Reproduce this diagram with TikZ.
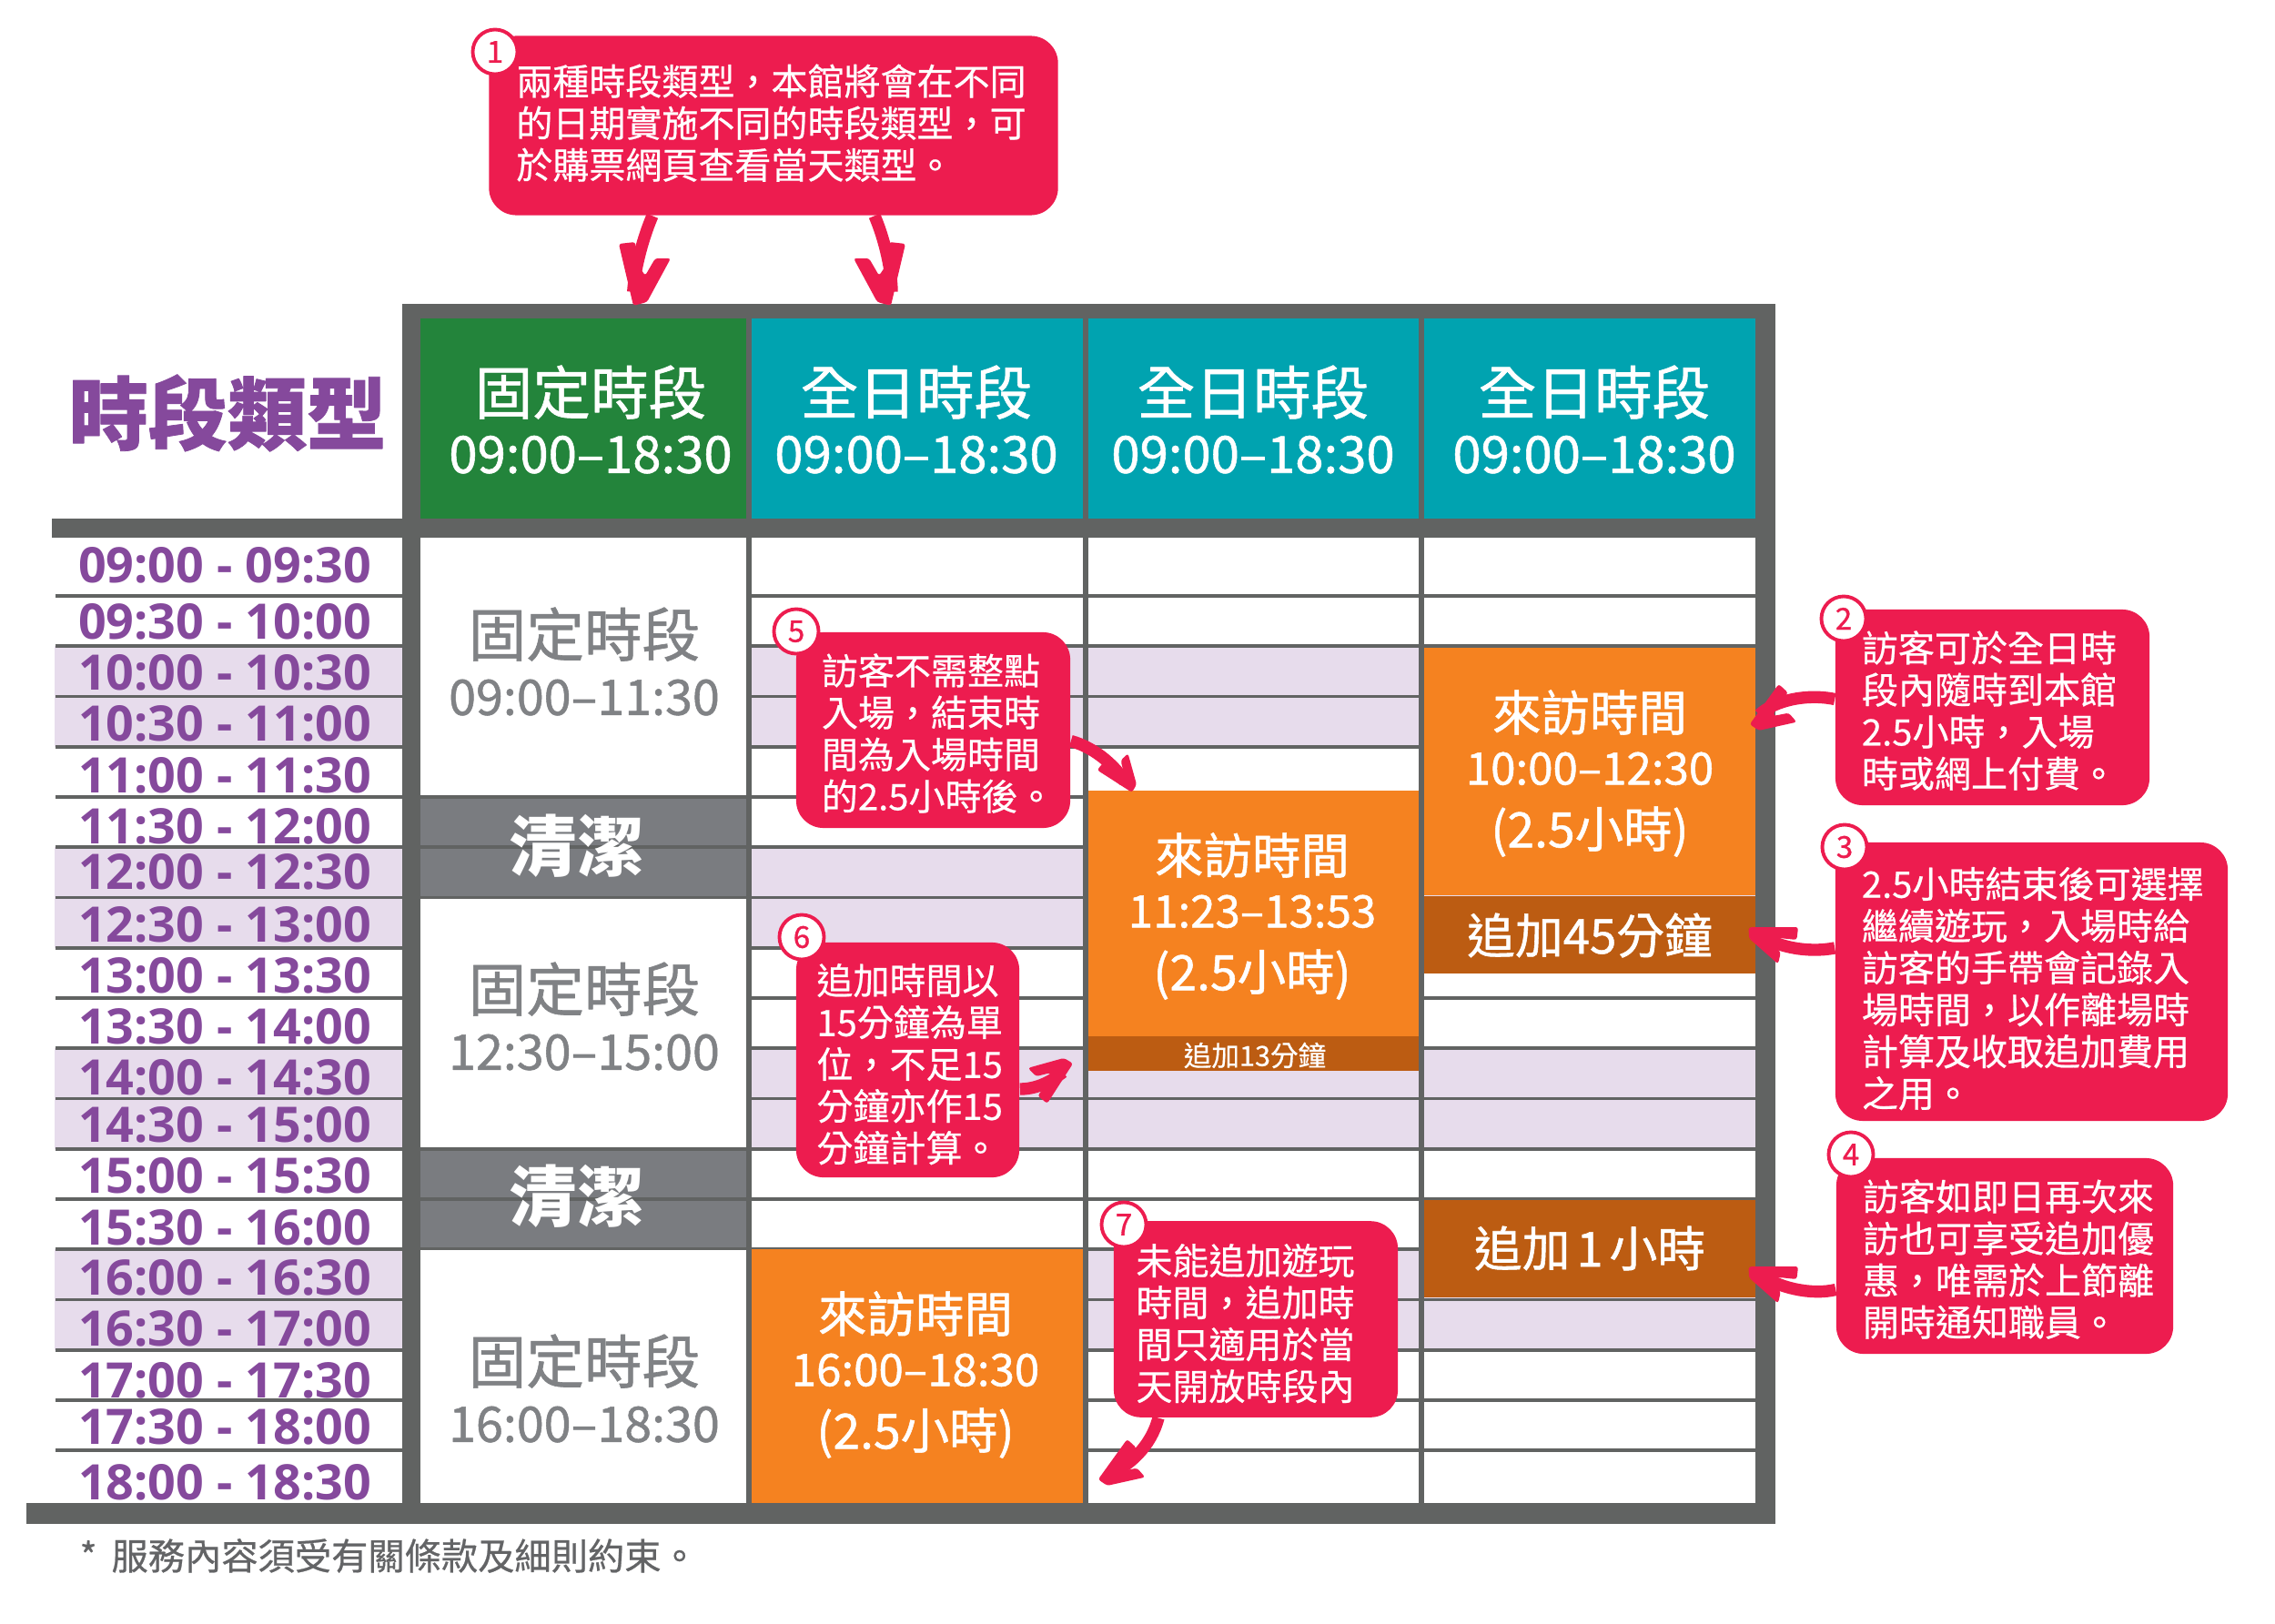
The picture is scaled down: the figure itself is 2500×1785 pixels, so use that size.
\documentclass[tikz,border=0pt]{standalone}
\usepackage{fontspec}
\setmainfont{Noto Sans CJK TC}
\newfontfamily\cjkmed[FakeBold=0.55]{Noto Sans CJK TC}
\newfontfamily\cjkhead[FakeBold=1]{Noto Sans CJK TC}
\newfontfamily\cjkheavy[BoldFeatures={FakeBold=0.9}]{Noto Sans CJK TC}
\newfontfamily\slotfont{Open Sans}
\usetikzlibrary{positioning}
\definecolor{framegray}{HTML}{616362}
\definecolor{cleangray}{HTML}{7A7C80}
\definecolor{labelgray}{HTML}{808285}
\definecolor{notegray}{HTML}{636466}
\definecolor{fixedgreen}{HTML}{23843B}
\definecolor{dayteal}{HTML}{00A3B0}
\definecolor{visitorange}{HTML}{F58220}
\definecolor{extrabrown}{HTML}{BC5C12}
\definecolor{callred}{HTML}{ED1C4F}
\definecolor{rowlilac}{HTML}{E7DCEC}
\definecolor{slotpurple}{HTML}{85499C}
\newcommand{\titlefont}{\fontsize{18.1pt}{19.6pt}\selectfont}
\newcommand{\timefont}{\fontsize{16pt}{19.6pt}\selectfont}
\newcommand{\periodtime}{\fontsize{15.3pt}{19.6pt}\selectfont}
\newcommand{\visittitle}{\fontsize{15.2pt}{18.2pt}\selectfont}
\newcommand{\visittime}{\fontsize{14pt}{18.2pt}\selectfont}
\tikzset{
    headtext/.style = {text = white, align = center, font = \cjkhead\fontsize{16pt}{18.3pt}\selectfont},
    periodtext/.style = {text = labelgray, align = center, font = \cjkhead\fontsize{16pt}{18.3pt}\selectfont},
    visittext/.style = {text = white, align = center, font = \cjkhead\fontsize{14pt}{18.2pt}\selectfont},
    extratext/.style = {text = white, font = \cjkhead\fontsize{15pt}{18pt}\selectfont},
    slotlabel/.style = {text = slotpurple, font = \slotfont\bfseries\fontsize{15.3pt}{18pt}\selectfont},
    cleantext/.style = {text = white, font = \bfseries\fontsize{20.8pt}{24pt}\selectfont},
    callbox/.style = {fill = callred, rounded corners = 0.3cm, text = white, align = left,
        font = \cjkmed\fontsize{11.38pt}{13.09pt}\selectfont,
        execute at begin node = {\rule{0pt}{#1}}},
    callbox/.default = 0pt,
    callnum/.style = {circle, draw = callred, fill = white, line width = 1.1pt, text = callred,
        minimum size = 0.49cm, inner sep = 0pt, font = \cjkhead\fontsize{9.4pt}{10pt}\selectfont},
    callarrow/.style = {draw = callred, line width = 3.8pt, shorten > = 3.5pt},
    handhead/.pic = {
        \fill[callred, rounded corners = 0.8pt] (1,3) -- (-15,-65) -- (3,-67) -- (6,-42)
            -- (14,-30) -- (25,-49) -- (42,-49) -- (16,-1) -- cycle;
    }
}

\begin{document}
\begin{tikzpicture}[x = 0.01cm, y = -0.01cm, line join = round]
    \useasboundingbox (0,0) rectangle (2500,1785);
    \fill[white] (0,0) rectangle (2500,1785);

    % clean blocks and lilac rows go under the grid lines
    \fill[cleangray] (462,875) rectangle (820,986);
    \fill[cleangray] (462,1261) rectangle (820,1372);
    \foreach \r in {2,3,6,7,10,11,14,15} {
        \fill[rowlilac] (60,{655+55.25*(\r-1)}) rectangle (442,{655+55.25*\r});
        \fill[rowlilac] (826,{655+55.25*(\r-1)}) rectangle (1929,{655+55.25*\r});
    }
    \foreach \k in {0,...,17} {
        \draw[framegray, line width = 1.1pt] (61,{655+55.25*\k}) -- (1929,{655+55.25*\k});
    }
    \fill[white] (462,591) rectangle (820,873);
    \fill[white] (462,988) rectangle (820,1259);
    \fill[white] (462,1374) rectangle (820,1652);

    % frame
    \fill[framegray] (442,334) rectangle (1951,350);
    \fill[framegray] (57,570) rectangle (1951,591);
    \fill[framegray] (442,334) rectangle (462,1675);
    \fill[framegray] (1929,334) rectangle (1951,1675);
    \fill[framegray] (29,1652) rectangle (1951,1675);
    \foreach \x in {823,1193,1562} {
        \draw[framegray, line width = 1.7pt] (\x,350) -- (\x,1652);
    }

    % header
    \fill[fixedgreen] (462,350) rectangle (820,570);
    \fill[dayteal] (826,350) rectangle (1190,570);
    \fill[dayteal] (1196,350) rectangle (1559,570);
    \fill[dayteal] (1565,350) rectangle (1929,570);
    \node[headtext] (headfixed) at (649,461) {{\titlefont 固定時段}\\{\timefont 09:00–18:30}};
    \node[headtext] (headday) at (1007,461) {{\titlefont 全日時段}\\{\timefont 09:00–18:30}};
    \node[headtext] (headdayb) at (1377,461) {{\titlefont 全日時段}\\{\timefont 09:00–18:30}};
    \node[headtext] (headdayc) at (1752,461) {{\titlefont 全日時段}\\{\timefont 09:00–18:30}};
    \node[text = slotpurple, font = \cjkheavy\bfseries\fontsize{24.8pt}{28pt}\selectfont] (title) at (250,454) {時段類型};

    % time slots
    \foreach \t/\y [count = \i] in {09:00 - 09:30/621, 09:30 - 10:00/683, 10:00 - 10:30/739,
        10:30 - 11:00/795, 11:00 - 11:30/852, 11:30 - 12:00/908, 12:00 - 12:30/958,
        12:30 - 13:00/1016, 13:00 - 13:30/1072, 13:30 - 14:00/1128, 14:00 - 14:30/1184,
        14:30 - 15:00/1236, 15:00 - 15:30/1292, 15:30 - 16:00/1349, 16:00 - 16:30/1404,
        16:30 - 17:00/1460, 17:00 - 17:30/1517, 17:30 - 18:00/1568, 18:00 - 18:30/1629} {
        \node[slotlabel] (slot\i) at (247,\y) {\t};
    }

    % fixed periods
    \node[periodtext] (periodam) at (642,727) {{\titlefont 固定時段}\\{\periodtime 09:00–11:30}};
    \node[periodtext] (periodnoon) at (642,1117) {{\titlefont 固定時段}\\{\periodtime 12:30–15:00}};
    \node[periodtext] (periodpm) at (642,1526) {{\titlefont 固定時段}\\{\periodtime 16:00–18:30}};
    \node[cleantext] (cleana) at (634,930) {清潔};
    \node[cleantext] (cleanb) at (634,1315) {清潔};

    % visits
    \fill[visitorange] (826,1373) rectangle (1190,1652);
    \fill[visitorange] (1196,869) rectangle (1559,1139);
    \fill[extrabrown] (1196,1139) rectangle (1559,1177);
    \fill[visitorange] (1565,712) rectangle (1929,984);
    \fill[extrabrown] (1565,985) rectangle (1929,1070);
    \fill[extrabrown] (1565,1319) rectangle (1929,1426);
    \node[visittext] (visita) at (1006,1511) {{\visittitle 來訪時間}\\[-1.4pt]{\visittime 16:00–18:30}\\[1.4pt]{\visittitle (2.5小時)}};
    \node[visittext] (visitb) at (1376,1007) {{\visittitle 來訪時間}\\[-1.4pt]{\visittime 11:23–13:53}\\[1.4pt]{\visittitle (2.5小時)}};
    \node[visittext] (visitc) at (1747,850) {{\visittitle 來訪時間}\\[-1.4pt]{\visittime 10:00–12:30}\\[1.4pt]{\visittitle (2.5小時)}};
    \node[text = white, font = \cjkmed\fontsize{8.7pt}{11pt}\selectfont] (extrab) at (1379,1160) {追加13分鐘};
    \node[extratext] (extrac) at (1747,1028) {追加45分鐘};
    \node[extratext] (extrad) at (1747,1372) {追加\hspace{0.13em}1\hspace{0.13em}小時};

    % callouts
    \node[callbox, text width = 5.65cm, inner xsep = 0.3cm, minimum height = 1.97cm] (callone) at (850,138)
        {兩種時段類型，本館將會在不同\\的日期實施不同的時段類型，可\\於購票網頁查看當天類型。\rule[-0.09cm]{0pt}{0pt}};
    \node[callbox = 0.41cm, text width = 2.87cm, inner xsep = 0.29cm, minimum height = 2.15cm] (calltwo) at (2189.5,777.5)
        {訪客可於全日時\\段內隨時到本館\\2.5小時，入場\\時或網上付費。};
    \node[callbox = 0.49cm, text width = 3.73cm, inner xsep = 0.29cm, minimum height = 3.00cm] (callthree) at (2232.5,1079)
        {2.5小時結束後可選擇\\繼續遊玩，入場時給\\訪客的手帶會記錄入\\場時間，以作離場時\\計算及收取追加費用\\之用。};
    \node[callbox = 0.41cm, text width = 3.12cm, inner xsep = 0.29cm, minimum height = 2.15cm] (callfour) at (2203,1380.5)
        {訪客如即日再次來\\訪也可享受追加優\\惠，唯需於上節離\\開時通知職員。};
    \node[callbox = 0.41cm, text width = 2.45cm, inner xsep = 0.28cm, minimum height = 2.15cm] (callfive) at (1025.5,802.5)
        {訪客不需整點\\入場，結束時\\間為入場時間\\的2.5小時後。};
    \node[callbox = 0.43cm, text width = 2.0cm, inner xsep = 0.225cm, minimum height = 2.58cm] (callsix) at (997.5,1165)
        {追加時間以\\15分鐘為單\\位，不足15\\分鐘亦作15\\分鐘計算。};
    \node[callbox = 0.43cm, text width = 2.63cm, inner xsep = 0.245cm, minimum height = 2.155cm] (callseven) at (1380,1450)
        {未能追加遊玩\\時間，追加時\\間只適用於當\\天開放時段內};
    \node[callnum] (numone) at (544,57) {1};
    \node[callnum] (numtwo) at (2026,680) {2};
    \node[callnum] (numthree) at (2027,931) {3};
    \node[callnum] (numfour) at (2034,1269) {4};
    \node[callnum] (numfive) at (875,694) {5};
    \node[callnum] (numsix) at (881,1030) {6};
    \node[callnum] (numseven) at (1235,1346) {7};

    % arrows
    \coordinate (tipa) at (695,333);
    \coordinate (tipb) at (980,333);
    \coordinate (tipc) at (1924,794);
    \coordinate (tipd) at (1924,1019);
    \coordinate (tipe) at (1924,1392);
    \coordinate (tipf) at (1242,870);
    \coordinate (tipg) at (1178,1171);
    \coordinate (tiph) at (1208,1624);
    \draw[callarrow] ([xshift = -1.33cm]callone.south) .. controls (705,265) and (697,300) .. (tipa);
    \draw[callarrow] ([xshift = 1.11cm]callone.south) .. controls (973,265) and (980,300) .. (tipb);
    \draw[callarrow] ([yshift = 0.09cm]calltwo.west) .. controls (1985,762) and (1950,770) .. (tipc);
    \draw[callarrow] ([yshift = 0.37cm]callthree.west) .. controls (1985,1048) and (1950,1040) .. (tipd);
    \draw[callarrow] ([yshift = -0.37cm]callfour.west) .. controls (1990,1424) and (1952,1415) .. (tipe);
    \draw[callarrow] ([yshift = -0.12cm]callfive.east) .. controls (1205,822) and (1228,845) .. (tipf);
    \draw[callarrow] ([yshift = -0.32cm]callsix.east) .. controls (1145,1197) and (1162,1183) .. (tipg);
    \draw[callarrow] ([xshift = -1.07cm]callseven.south) .. controls (1265,1590) and (1240,1612) .. (tiph);
    \pic at (tipa) {handhead};
    \pic[xscale = -1] at (tipb) {handhead};
    \pic[rotate = -49, scale = 0.78] at (tipc) {handhead};
    \pic[rotate = -103, scale = 0.78] at (tipd) {handhead};
    \pic[rotate = -103, scale = 0.78] at (tipe) {handhead};
    \pic[rotate = 44, scale = 0.65] at (tipf) {handhead};
    \pic[rotate = 134, scale = 0.75] at (tipg) {handhead};
    \pic[rotate = -49, scale = 0.78] at (tiph) {handhead};

    \node[text = notegray, anchor = west, inner sep = 0pt, font = \cjkmed\fontsize{11.45pt}{13pt}\selectfont] (note) at (87,1710) {*\hspace{0.4em}服務內容須受有關條款及細則約束。};
\end{tikzpicture}
\end{document}
